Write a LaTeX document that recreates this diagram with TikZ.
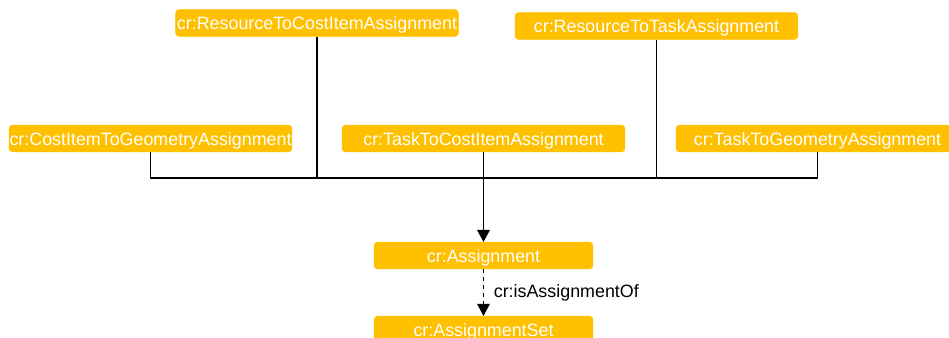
\documentclass[tikz,border=0pt]{standalone}
\usepackage{fontspec}
\setmainfont{Liberation Sans}
\usetikzlibrary{arrows.meta}
\definecolor{amber}{HTML}{FFC000}
\newcommand\lowtxt[1]{\raisebox{-1.5pt}{#1}}
\begin{document}
\begin{tikzpicture}[x=0.75pt,y=-0.75pt,
  txt/.style={font=\fontsize{13.4}{15}\selectfont},
  cls/.style={txt,fill=amber,draw=amber,rounded corners=2.5pt,text=white,inner sep=0pt,
    text height=0.716em,text depth=0pt,minimum width=212pt,minimum height=20pt},
  conn/.style={draw=black,line width=0.8pt},
  tip/.style={-{Triangle[length=9pt,width=9.5pt]}}]
\useasboundingbox (0,0) rectangle (949,338);
\clip (0,0) rectangle (949,338);
\node[cls] (rci) at (317,23) {\lowtxt{cr:ResourceToCostItemAssignment}};
\node[cls] (rta) at (656.5,26) {\lowtxt{cr:ResourceToTaskAssignment}};
\node[cls] (cig) at (150.5,138.5) {\lowtxt{cr:CostItemToGeometryAssignment}};
\node[cls] (tci) at (483.5,138.5) {\lowtxt{cr:TaskToCostItemAssignment}};
\node[cls] (tga) at (817.5,138.5) {\lowtxt{cr:TaskToGeometryAssignment}};
\node[cls,minimum width=164pt] (asg) at (483.5,255.5) {\lowtxt{cr:Assignment}};
\node[cls,minimum width=164pt] (aset) at (483.5,329.5) {\lowtxt{cr:AssignmentSet}};
\coordinate (j) at (483.5,178);
\draw[conn] (cig.south) |- (j);
\draw[conn] (tga.south) |- (j);
\draw[conn] (rci.south) |- (j);
\draw[conn] (rta.south) |- (j);
\draw[conn,line width=1.2pt,tip] (tci.south) -- (asg.north);
\draw[conn,tip,dashed] (asg.south) -- node[right=4pt,text=black,txt] (lbl) {cr:isAssignmentOf} (aset.north);
\end{tikzpicture}
\end{document}
